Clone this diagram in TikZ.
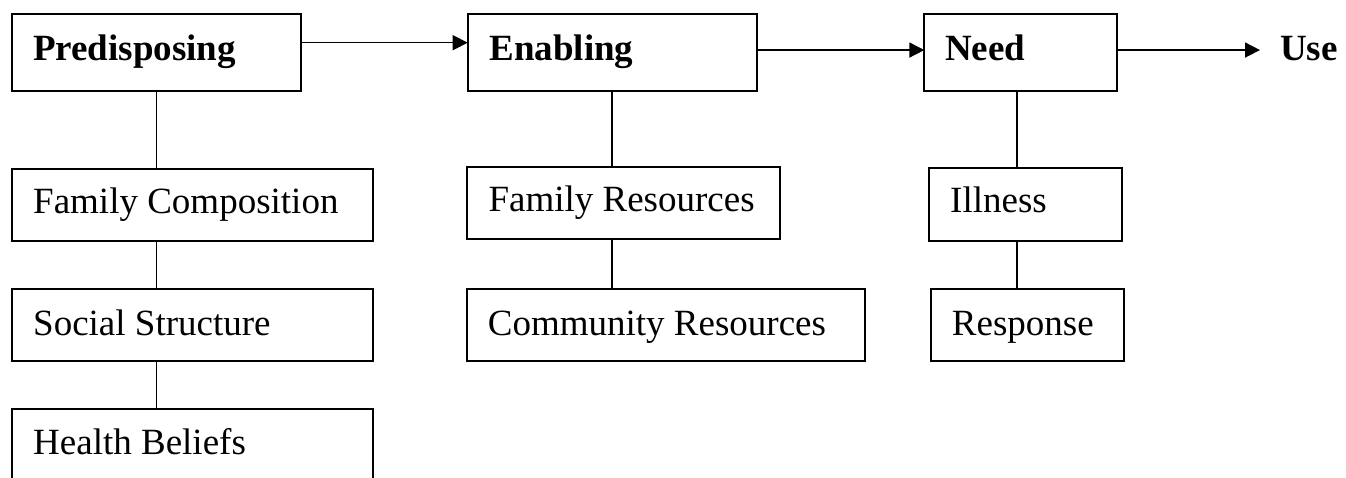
\documentclass[tikz,border=0pt]{standalone}
\usepackage{fontspec}
\setmainfont{Liberation Serif}
\usetikzlibrary{arrows.meta}

\tikzset{
  stagebox/.style={draw, line width=2pt, inner sep=0pt, outer sep=0pt},
  stagetext/.style={inner sep=0pt, font=\fontsize{37}{44}\selectfont},
  headtext/.style={stagetext, font=\fontsize{37}{44}\selectfont\bfseries},
  link/.style={line width=1.6pt},
  flow/.style={line width=1.6pt, -{Triangle[length=15pt,width=15pt]}}
}

% #1 name, #2 left, #3 top, #4 right, #5 bottom, #6 baseline, #7 text left, #8 text style, #9 text
\newcommand\stagebox[9]{%
  \node[stagebox, minimum width={#4-#2}, minimum height={#5-#3}, anchor=north west] (#1) at (#2,#3) {};
  \node[#8, anchor=base west] (#1-t) at (#7,#6) {#9};
}

\begin{document}
\begin{tikzpicture}[x=1pt, y=-1pt]
  \path[use as bounding box, clip] (0,0) rectangle (1346,478);

  % Predisposing column
  \stagebox{pre}{12}{14}{301}{91}{60.5}{33}{headtext}{Predisposing}
  \stagebox{fam}{12}{169}{372.7}{240.7}{213.3}{33}{stagetext}{Family Composition}
  \stagebox{soc}{12}{289.3}{372.7}{361}{335}{33}{stagetext}{Social Structure}
  \stagebox{hea}{12}{409}{372.7}{500}{454}{33}{stagetext}{Health Beliefs}

  % Enabling column
  \stagebox{ena}{467.7}{14}{756.7}{90.7}{60.7}{489.3}{headtext}{Enabling}
  \stagebox{fres}{467.3}{166.7}{780}{238.7}{212}{488.3}{stagetext}{Family Resources}
  \stagebox{cres}{466.7}{289}{864.7}{361}{335}{487.7}{stagetext}{Community Resources}

  % Need column
  \stagebox{need}{924.3}{14}{1117}{90.7}{60.7}{945}{headtext}{Need}
  \stagebox{ill}{929}{168.3}{1122}{240.7}{213}{950}{stagetext}{Illness}
  \stagebox{resp}{930.7}{289}{1123.7}{361}{335}{951.7}{stagetext}{Response}

  % Outcome
  \node[headtext, anchor=base west] (use) at (1280,60.7) {Use};

  % Vertical links inside each column, all on the axis of the column head
  \draw[link] (pre.south) -- (pre.south |- fam.north);
  \draw[link] (pre.south |- fam.south) -- (pre.south |- soc.north);
  \draw[link] (pre.south |- soc.south) -- (pre.south |- hea.north);
  \draw[link] (ena.south) -- (ena.south |- fres.north);
  \draw[link] (ena.south |- fres.south) -- (ena.south |- cres.north);
  \draw[link] ([xshift=-3.4pt]need.south) -- ([xshift=-3.4pt]need.south |- ill.north);
  \draw[link] ([xshift=-3.4pt]need.south |- ill.south) -- ([xshift=-3.4pt]need.south |- resp.north);

  % Flow between stages
  \draw[flow] ([yshift=9.8pt]pre.east) -- ([yshift=9.8pt]pre.east -| ena.west);
  \draw[flow] ([yshift=2.3pt]ena.east) -- ([yshift=2.3pt]ena.east -| need.west);
  \draw[flow, shorten >=20pt] ([yshift=2.3pt]need.east) -- ([yshift=2.3pt]need.east -| use.west);
\end{tikzpicture}
\end{document}
